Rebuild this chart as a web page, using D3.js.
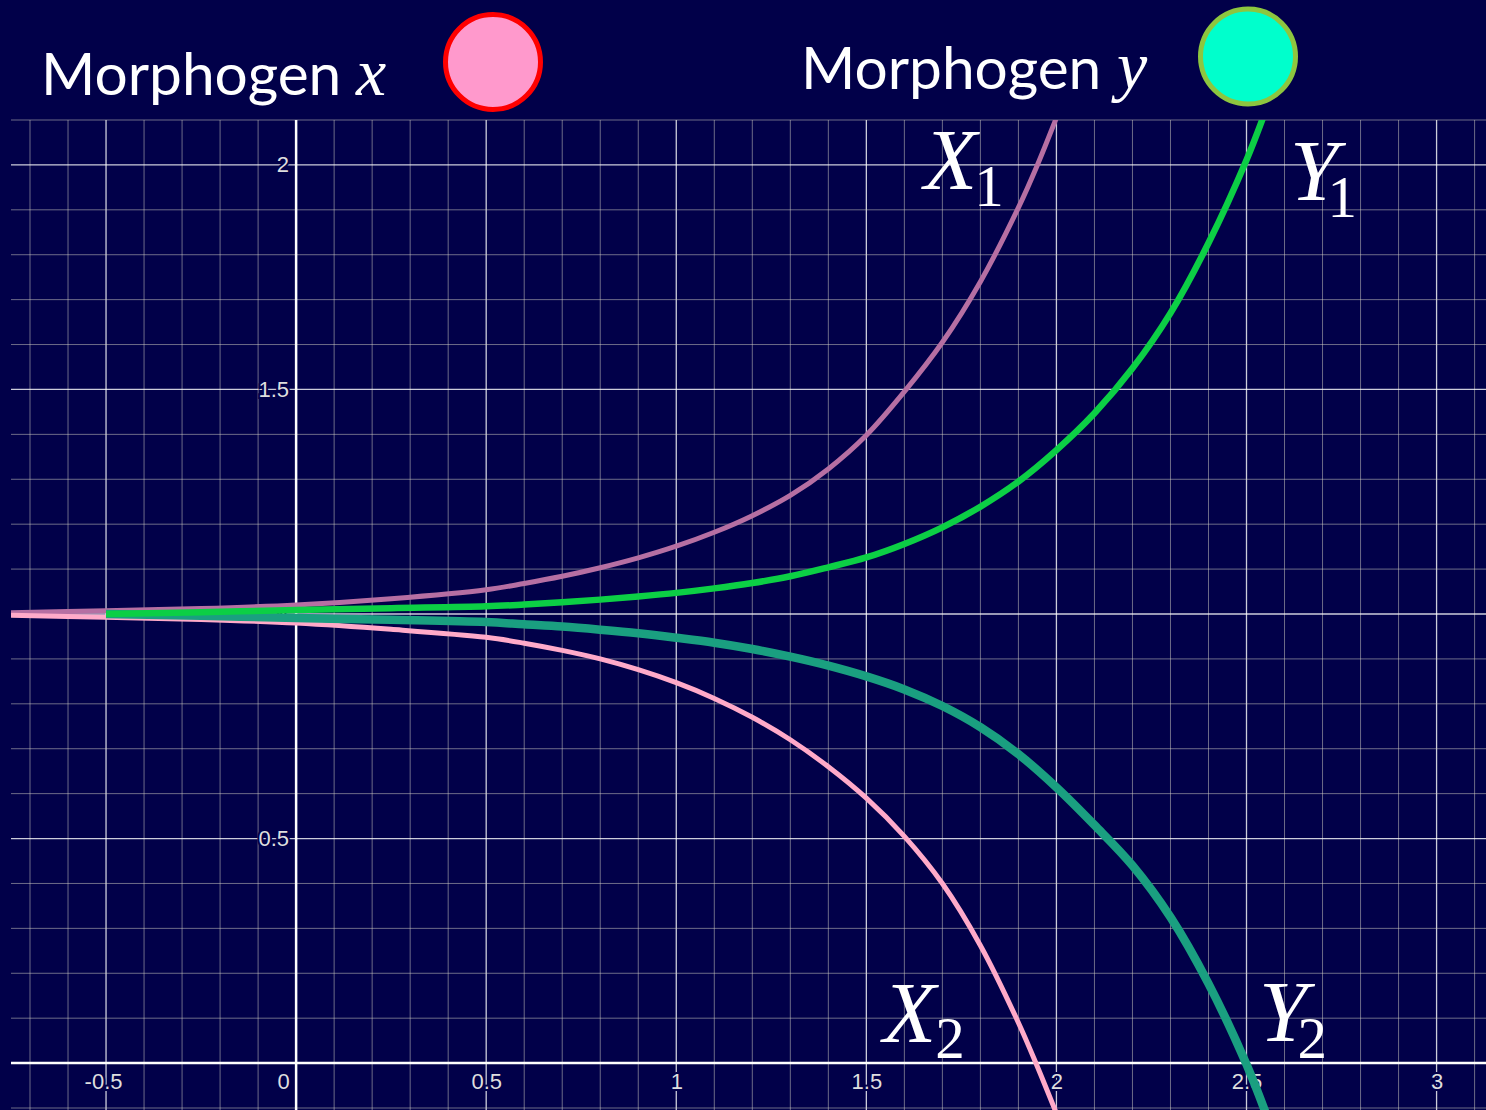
<!DOCTYPE html>
<html lang="en">

<head>
    <meta charset="utf-8">
    <script src="https://d3js.org/d3.v7.min.js"></script>
    <style>
        body { margin: 0; background: #010049; }
    </style>
</head>

<body>
    <div id="chart"></div>

    <script>
        // Set Dimensions
        const width = 1486;
        const height = 1110;
        const plotLeft = 11;
        const plotTop = 120;
        const plotBottom = 1108;

        // Data
        const xCurveXs = [-0.75, -0.5, -0.25, 0, 0.25, 0.5, 0.6, 0.7, 0.8, 0.9, 1.0, 1.1, 1.2, 1.3, 1.4, 1.5, 1.6, 1.7, 1.8, 1.9, 1.95, 2.0];
        const x1Vals = [1.003, 1.007, 1.012, 1.020, 1.034, 1.054, 1.068, 1.084, 1.103, 1.125, 1.151, 1.182, 1.219, 1.264, 1.323, 1.398, 1.495, 1.605, 1.740, 1.905, 2.000, 2.105];
        const x2Vals = [0.997, 0.993, 0.988, 0.980, 0.966, 0.948, 0.935, 0.919, 0.900, 0.876, 0.847, 0.812, 0.770, 0.720, 0.660, 0.590, 0.505, 0.400, 0.262, 0.090, -0.008, -0.112];

        const yCurveXs = [-0.5, -0.25, 0, 0.25, 0.5, 0.6, 0.7, 0.8, 0.9, 1.0, 1.1, 1.2, 1.3, 1.4, 1.5, 1.6, 1.7, 1.8, 1.9, 2.0, 2.1, 2.2, 2.3, 2.4, 2.5, 2.55];
        const y1Vals = [1.0, 1.004, 1.009, 1.013, 1.017, 1.021, 1.026, 1.032, 1.039, 1.047, 1.057, 1.069, 1.084, 1.104, 1.126, 1.156, 1.193, 1.239, 1.295, 1.365, 1.447, 1.547, 1.670, 1.826, 2.011, 2.120];
        const y2Vals = [1.0, 0.996, 0.991, 0.987, 0.982, 0.977, 0.972, 0.965, 0.957, 0.947, 0.936, 0.922, 0.905, 0.885, 0.861, 0.832, 0.795, 0.748, 0.688, 0.614, 0.530, 0.440, 0.325, 0.177, -0.003, -0.110];

        const xTickVals = [-0.5, 0, 0.5, 1, 1.5, 2, 2.5, 3];
        const yTickVals = [0.5, 1, 1.5, 2];

        // kern = pull-in of the subscript under the italic letter
        const curveLabels = [
            { main: "X", sub: "1", x: 924, y: 189, kern: -3, dy: 17 },
            { main: "Y", sub: "1", x: 1290, y: 200, kern: -11, dy: 17 },
            { main: "X", sub: "2", x: 883, y: 1042, kern: -1, dy: 16 },
            { main: "Y", sub: "2", x: 1259, y: 1041, kern: -10, dy: 17 }
        ];

        const bg = "#010049";

        const svg = d3.select("#chart")
            .append("svg")
            .attr("width", width)
            .attr("height", height)
            .style("display", "block");

        svg.append("rect").attr("width", width).attr("height", height).attr("fill", bg);

        // scales
        const x = d3.scaleLinear().domain([-0.75, 3.13]).range([plotLeft, width]);
        const y = d3.scaleLinear().domain([-0.1, 2.1]).range([plotBottom, plotTop]);

        // grid lines every 0.1, brighter every 0.5
        const isMajor = v => Math.abs(v * 2 - Math.round(v * 2)) < 1e-6;
        const xGrid = d3.range(-7, 32).map(d => d / 10);
        const yGrid = d3.range(-1, 22).map(d => d / 10);

        const grid = svg.append("g");
        grid.selectAll(".vline")
            .data(xGrid)
            .enter()
            .append("line")
            .attr("x1", d => x(d)).attr("x2", d => x(d))
            .attr("y1", plotTop).attr("y2", height)
            .attr("stroke", d => isMajor(d) ? "#ffffff" : "#d9d5c8")
            .attr("stroke-opacity", d => isMajor(d) ? 0.8 : 0.5)
            .attr("stroke-width", d => isMajor(d) ? 1.3 : 1);
        grid.selectAll(".hline")
            .data(yGrid)
            .enter()
            .append("line")
            .attr("x1", plotLeft).attr("x2", width)
            .attr("y1", d => y(d)).attr("y2", d => y(d))
            .attr("stroke", d => isMajor(d) ? "#ffffff" : "#d9d5c8")
            .attr("stroke-opacity", d => isMajor(d) ? 0.8 : 0.5)
            .attr("stroke-width", d => isMajor(d) ? 1.3 : 1);

        // axis lines
        svg.append("line")
            .attr("x1", x(0)).attr("x2", x(0)).attr("y1", plotTop).attr("y2", height)
            .attr("stroke", "#ffffff").attr("stroke-width", 2.5);
        svg.append("line")
            .attr("x1", plotLeft).attr("x2", width).attr("y1", y(0)).attr("y2", y(0))
            .attr("stroke", "#ffffff").attr("stroke-width", 2.5);

        // tick labels (plain hyphen for negatives, like the reference)
        const fmt = d => String(d);
        const xAxis = svg.append("g")
            .attr("transform", "translate(0," + y(0) + ")")
            .call(d3.axisBottom(x).tickValues(xTickVals).tickSize(0).tickPadding(10).tickFormat(fmt));
        const yAxis = svg.append("g")
            .attr("transform", "translate(" + x(0) + ",0)")
            .call(d3.axisLeft(y).tickValues(yTickVals).tickSize(0).tickPadding(7).tickFormat(fmt));

        [xAxis, yAxis].forEach(ax => {
            ax.select(".domain").remove();
            ax.selectAll("text")
                .attr("font-family", "'Liberation Sans', Arial, sans-serif")
                .attr("font-size", 22)
                .attr("fill", "#dedede")
                .attr("stroke", bg)
                .attr("stroke-width", 4)
                .attr("paint-order", "stroke");
        });
        // origin label sits left of the y axis
        xAxis.selectAll(".tick").filter(d => d === 0).select("text").attr("x", -13);
        xAxis.selectAll(".tick").filter(d => d === -0.5).select("text").attr("x", -3);

        // curves
        svg.append("clipPath").attr("id", "plotClip")
            .append("rect")
            .attr("x", plotLeft).attr("y", plotTop)
            .attr("width", width - plotLeft).attr("height", height - plotTop);

        const line = d3.line()
            .x(d => x(d[0]))
            .y(d => y(d[1]))
            .curve(d3.curveCatmullRom.alpha(0.5));

        const series = [
            { xs: xCurveXs, ys: x1Vals, color: "#b66fa3", w: 5 },
            { xs: xCurveXs, ys: x2Vals, color: "#ffaac9", w: 5 },
            { xs: yCurveXs, ys: y2Vals, color: "#1a9f80", w: 8.5 },
            { xs: yCurveXs, ys: y1Vals, color: "#0ccf45", w: 6.5 }
        ];

        const curves = svg.append("g").attr("clip-path", "url(#plotClip)");
        series.forEach(s => {
            curves.append("path")
                .datum(s.xs.map((v, i) => [v, s.ys[i]]))
                .attr("fill", "none")
                .attr("stroke", s.color)
                .attr("stroke-width", s.w)
                .attr("d", line);
        });

        // curve labels: italic letter with upright subscript tucked in
        const serif = "'Liberation Serif', 'Times New Roman', serif";
        curveLabels.forEach(l => {
            const t = svg.append("text")
                .attr("x", l.x).attr("y", l.y)
                .attr("font-family", serif)
                .attr("fill", "#ffffff");
            t.append("tspan")
                .attr("font-style", "italic").attr("font-size", 87)
                .attr("letter-spacing", l.kern)
                .text(l.main);
            t.append("tspan")
                .attr("font-size", 59)
                .attr("dy", l.dy)
                .text(l.sub);
        });

        // header legend
        const sans = "Lato, 'Open Sans', sans-serif";
        svg.append("text").attr("x", 41).attr("y", 95)
            .attr("font-family", sans).attr("font-size", 58.6).attr("fill", "#ffffff")
            .text("Morphogen");
        svg.append("text").attr("x", 356).attr("y", 95)
            .attr("font-family", serif).attr("font-style", "italic").attr("font-size", 68).attr("fill", "#ffffff")
            .text("x");
        svg.append("circle")
            .attr("cx", 493).attr("cy", 62).attr("r", 47.5)
            .attr("fill", "#ff99cc").attr("stroke", "#ff0000").attr("stroke-width", 5);

        svg.append("text").attr("x", 801).attr("y", 89)
            .attr("font-family", sans).attr("font-size", 58.6).attr("fill", "#ffffff")
            .text("Morphogen");
        svg.append("text").attr("x", 1117).attr("y", 89)
            .attr("font-family", serif).attr("font-style", "italic").attr("font-size", 68).attr("fill", "#ffffff")
            .text("y");
        svg.append("circle")
            .attr("cx", 1248).attr("cy", 56.5).attr("r", 47.5)
            .attr("fill", "#00ffcc").attr("stroke", "#8dc63f").attr("stroke-width", 5);
    </script>
</body>

</html>
